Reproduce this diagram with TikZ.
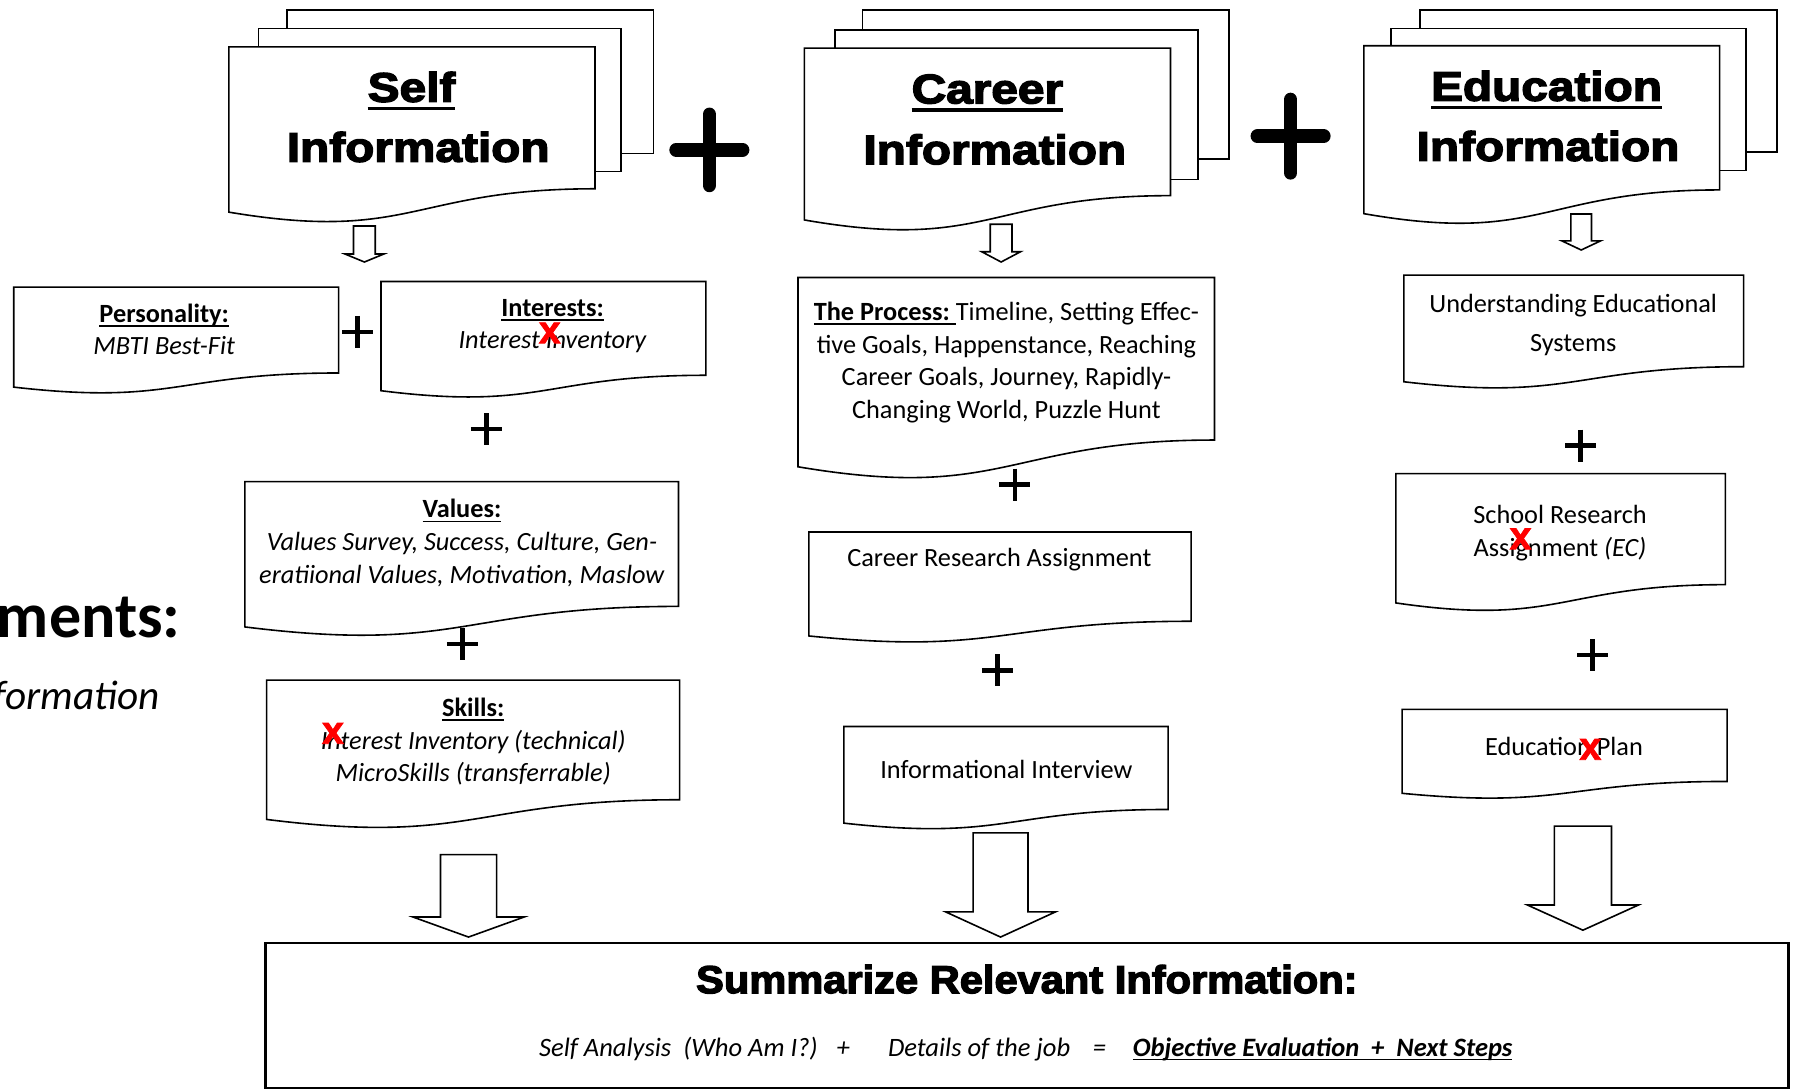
\documentclass[tikz,border=0pt]{standalone}
\usepackage{fontspec}
\setmainfont{Carlito}
\newfontfamily\blackfont{Liberation Sans}[UprightFont={* Bold},FakeBold=3.5,FakeStretch=1.16]
\newfontfamily\titlefont{Liberation Sans}[UprightFont={* Bold},FakeBold=3.5,FakeStretch=1.07]
\newfontfamily\xfont{Liberation Sans}[UprightFont={* Bold},FakeBold=2]
\newcommand\myul[1]{\setbox0\hbox{#1}\rlap{\rule[-3.8pt]{\wd0}{1.5pt}}\box0}
\newcommand\hul[1]{\setbox0\hbox{#1}\rlap{\rule[-7.3pt]{\wd0}{3pt}}\box0}
\newcommand\docshape[4]{%
  \pgfmathsetmacro\dsH{(#4-#2)/0.802}%
  \pgfmathsetmacro\dsM{(#1+#3)/2}%
  \pgfmathsetmacro\dsC{#2+1.1075*\dsH}%
  \pgfmathsetmacro\dsL{#2+0.934*\dsH}%
  \draw[docline] (#1,#2) -- (#3,#2) -- (#3,#4) .. controls (\dsM,#4) and (\dsM,\dsC) .. (#1,\dsL) -- cycle;}
% cx, top, shaft bottom, tip, shaft half width, head half width
\newcommand\blockarrow[6]{%
  \draw[docline] ({#1-#5},#2) -- ({#1+#5},#2) -- ({#1+#5},#3) -- ({#1+#6},#3) -- (#1,#4)
     -- ({#1-#6},#3) -- ({#1-#5},#3) -- cycle;}
\newcommand\smallplus[2]{%
  \draw[plusline] ({#1-13.5},#2) -- ({#1+13.5},#2) (#1,{#2-14}) -- (#1,{#2+14});}
\begin{document}
\begin{tikzpicture}[x=1pt,y=-1pt,
  every node/.style={inner sep=0pt},
  docline/.style={line width=1.4pt, fill=white, line join=miter},
  txt/.style={align=center, anchor=north, font=\fontsize{23}{28.5}\selectfont},
  head/.style={anchor=base, font=\blackfont\fontsize{36}{40}\selectfont},
  redx/.style={text=red, font=\xfont\fontsize{34}{34}\selectfont},
  plusline/.style={line width=4pt},
  bigplusline/.style={line width=12pt, line cap=round},
  botline/.style={anchor=base west, font=\itshape\fontsize{23.2}{26}\selectfont}
]
\useasboundingbox (0,0) rectangle (1568,953);
\clip (0,0) rectangle (1568,953);

% ---------- header stacks ----------
\draw[docline] (251,9) rectangle (571,134);
\draw[docline] (226,25) rectangle (543,150);
\docshape{200}{41}{520}{165}
\node[head] (selfA) at (359.7,88.9) {\hul{Self}};
\node[head] (selfB) at (365.5,141.3) {Information};

\draw[docline] (754,9) rectangle (1074,139);
\draw[docline] (730,26) rectangle (1047,157);
\docshape{703}{42}{1023}{171}
\node[head] (carA) at (863,90.3) {\hul{Career}};
\node[head] (carB) at (869.5,143.4) {Information};

\draw[docline] (1241,9) rectangle (1553,133);
\draw[docline] (1216,25) rectangle (1526,149);
\docshape{1192}{40}{1503}{166}
\node[head] (eduA) at (1351.7,88) {\hul{Education}};
\node[head] (eduB) at (1353,140.5) {Information};

% big plus signs
\coordinate (bp1) at (620,131);
\coordinate (bp2) at (1128,119);
\draw[bigplusline] ([xshift=-29pt]bp1) -- ([xshift=29pt]bp1) ([yshift=31pt]bp1) -- ([yshift=-31pt]bp1);
\draw[bigplusline] ([xshift=-29pt]bp2) -- ([xshift=29pt]bp2) ([yshift=32pt]bp2) -- ([yshift=-32pt]bp2);

% small arrows
\blockarrow{318.5}{197.5}{222}{229}{9.5}{17}
\blockarrow{875}{196}{220}{229}{9.5}{17}
\blockarrow{1382}{187}{210.5}{218.5}{9}{17}

% ---------- self column ----------
\docshape{12}{251}{296}{326}
\node[txt] (pers) at (143.5,261.5) {\strut\myul{\textbf{Personality:}}\\\textit{MBTI Best-Fit}};
\docshape{333}{246}{617}{328}
\node[txt] (intr) at (483,256.3) {\strut\myul{\textbf{Interests:}}\\\textit{Interest Inventory}};
\docshape{214}{421}{593}{530}
\node[txt] (vals) at (403.8,432.5) {\strut\myul{\textbf{Values:}}\\\textit{Values Survey, Success, Culture, Gen-}\\\textit{eratiional Values, Motivation, Maslow}};
\docshape{233}{594.5}{594}{699}
\node[txt] (skil) at (413.6,606) {\strut\myul{\textbf{Skills:}}\\\textit{Interest Inventory (technical)}\\\textit{MicroSkills (transferrable)}};

% ---------- career column ----------
\docshape{697.5}{242.5}{1061.5}{384.6}
\node[txt] (proc) at (879.6,260) {\strut\myul{\textbf{The Process:}\ }Timeline, Setting Effec-\\tive Goals, Happenstance, Reaching\\Career Goals, Journey, Rapidly-\\Changing World, Puzzle Hunt};
\docshape{707}{465}{1041}{543}
\node[txt] (cra) at (873.4,475.4) {\strut Career Research Assignment};
\docshape{737.5}{635}{1021}{707.5}
\node[txt] (ii) at (879.6,660.7) {\strut Informational Interview};

% ---------- education column ----------
\docshape{1227}{240.5}{1524}{320.5}
\node[txt] (ues) at (1375,253.4) {\strut Understanding Educational\\[5pt]Systems};
\docshape{1220}{414}{1508}{511}
\node[txt] (sra) at (1363.5,437.8) {\strut School Research\\Assignment \textit{(EC)}};
\docshape{1225.5}{620}{1509.5}{683}
\node[txt] (ep) at (1367,640.3) {\strut Education Plan};

% small plus signs
\smallplus{312.5}{290}
\smallplus{425}{375}
\smallplus{404}{563}
\smallplus{887}{423.5}
\smallplus{872}{586}
\smallplus{1381.5}{389.5}
\smallplus{1392}{572.5}

% red marks
\node[redx] (x1) at (480.5,291) {x};
\node[redx] (x2) at (291,641) {x};
\node[redx] (x3) at (1329,471) {x};
\node[redx] (x4) at (1390,655) {x};

% big arrows
\blockarrow{409.5}{747}{801.5}{819}{24.5}{48.5}
\blockarrow{874.5}{728}{797}{819}{24}{48}
\blockarrow{1383.5}{722}{791}{813}{25}{48.5}

% ---------- summary box ----------
\draw[line width=2.2pt] (232,824) rectangle (1563,951);
\node[anchor=base, font=\titlefont\fontsize{34}{40}\selectfont] (sum) at (897.5,868) {Summarize Relevant Information:};
\node[botline] (sa) at (471,923) {Self Analysis\ \ (Who Am I?)};
\node[botline, anchor=base] (p1) at (737,923) {+};
\node[botline] (dj) at (776,923) {Details of the job};
\node[botline, anchor=base] (eq) at (961,923) {=};
\node[botline] (oe) at (990,923) {\myul{\textbf{Objective Evaluation\ \ +\ \ Next Steps}}};

% ---------- clipped left texts ----------
\node[anchor=base east, font=\bfseries\fontsize{56}{60}\selectfont] (ments) at (158,557) {ments:};
\node[anchor=base east, font=\itshape\fontsize{36}{40}\selectfont] (forma) at (140,620.5) {formation};
\end{tikzpicture}
\end{document}
